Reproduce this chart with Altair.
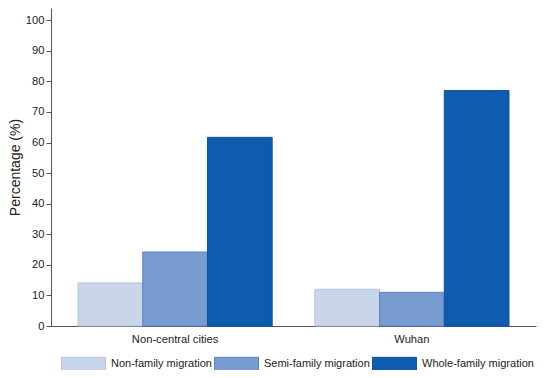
import altair as alt
import pandas as pd

cities = ["Non-central cities", "Wuhan"]
types = ["Non-family migration", "Semi-family migration", "Whole-family migration"]
non_central = [14.1, 24.2, 61.7]
wuhan = [12.0, 11.0, 77.0]
fill_colors = ["#c9d6ea", "#789ccf", "#0f5cae"]
stroke_colors = ["#b3c5e2", "#5a84c2", "#0c53a0"]

rows = []
for city, vals in zip(cities, [non_central, wuhan]):
    for t, v in zip(types, vals):
        rows.append({"city": city, "type": t, "value": v})
df = pd.DataFrame(rows)

path = "M-1,-0.3 L1,-0.3 L1,0.3 L-1,0.3 Z"

chart = alt.Chart(df).mark_bar(strokeWidth=1).encode(
    x=alt.X("city:N", sort=cities, title=None,
            scale=alt.Scale(paddingInner=0.18, paddingOuter=0.114),
            axis=alt.Axis(labelAngle=0, ticks=False, labelFontSize=11.2, labelPadding=7,
                          labelColor="#222", domainColor="#555", labelFont="Liberation Sans")),
    xOffset=alt.XOffset("type:N", sort=types, scale=alt.Scale(paddingInner=0, paddingOuter=0)),
    y=alt.Y("value:Q", title="Percentage (%)",
            scale=alt.Scale(domain=[0, 104], nice=False),
            axis=alt.Axis(values=list(range(0, 101, 10)), grid=False, tickSize=5,
                          labelFontSize=11.2, titleFontSize=14, titleFontWeight="normal",
                          labelColor="#222", titleColor="#222", domainColor="#555", tickColor="#555",
                          labelFont="Liberation Sans", titleFont="Liberation Sans", titlePadding=3)),
    color=alt.Color("type:N", sort=types, title=None,
                    scale=alt.Scale(domain=types, range=fill_colors),
                    legend=alt.Legend(orient="none", direction="horizontal", legendX=10, legendY=333,
                                      symbolType=path, symbolSize=1936, symbolStrokeWidth=1,
                                      symbolOpacity=1, labelFontSize=11, labelColor="#222",
                                      labelFont="Liberation Sans", columnPadding=0, labelOffset=5,
                                      symbolOffset=0, padding=0)),
    stroke=alt.Stroke("type:N", sort=types, scale=alt.Scale(domain=types, range=stroke_colors), legend=None),
).properties(
    width=485, height=318,
    autosize=alt.AutoSizeParams(type="none"),
    padding={"left": 43, "top": 0, "right": 6, "bottom": 44},
).configure_view(stroke=None)

chart.save("out.html", embed_options={"renderer": "svg", "actions": False})
